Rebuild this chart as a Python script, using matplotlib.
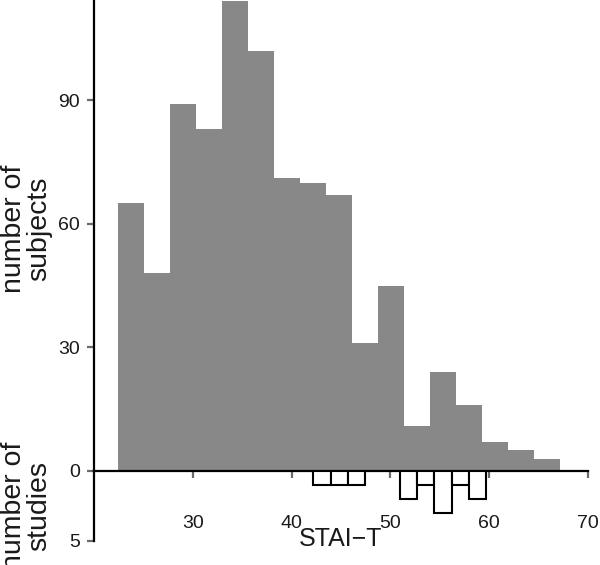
import numpy as np
import matplotlib
matplotlib.use("Agg")
import matplotlib.pyplot as plt

plt.rcParams['font.family'] = ['Liberation Sans', 'DejaVu Sans']

# histogram of STAI-T scores (subjects)
subject_edges = np.linspace(22.4, 67.2, 18)
subject_counts = [65, 48, 89, 83, 114, 102, 71, 70, 67, 31, 45, 11, 24, 16, 7, 5, 3]

# histogram of study means (number of studies)
study_edges = np.linspace(42.2, 59.7, 11)
study_counts = [1, 1, 1, 0, 0, 2, 1, 3, 1, 2]

x_ticks = [30, 40, 50, 60, 70]
subject_ticks = [0, 30, 60, 90]
study_ticks = [5]

fig = plt.figure(figsize=(6, 5.65), dpi=100)
ax = fig.add_axes([0.1567, 0.1664, 0.8233, 0.8336])
ax2 = fig.add_axes([0.1567, 0.0425, 0.8233, 0.1239])

# subjects
ax.bar(subject_edges[:-1], subject_counts, width=np.diff(subject_edges),
       align='edge', color='#888888', linewidth=0)
ax.set_xlim(20, 70)
ax.set_ylim(0, 114.3)
for s in ['top', 'right']:
    ax.spines[s].set_visible(False)
for s in ['left', 'bottom']:
    ax.spines[s].set_linewidth(1.6)
    ax.spines[s].set_color('black')
    ax.spines[s].set_zorder(5)
ax.set_xticks(x_ticks)
ax.set_yticks(subject_ticks)
ax.tick_params(axis='both', direction='out', length=5, width=1.6,
               color='#6a6a6a', labelsize=14, labelcolor='#1a1a1a')
ax.tick_params(axis='x', pad=27)
ax.tick_params(axis='y', pad=5)
ax.set_ylabel('number of\nsubjects', fontsize=20.5, linespacing=0.95,
              color='#1a1a1a')
ax.set_xlabel('STAI\u2212T', fontsize=18, labelpad=-4, color='#1a1a1a')

# studies (drawn downwards)
ax2.patch.set_alpha(0)
mask = np.array(study_counts) > 0
ax2.bar(study_edges[:-1][mask], np.array(study_counts)[mask],
        width=np.diff(study_edges)[mask], align='edge',
        facecolor='white', edgecolor='black', linewidth=1.5)
ax2.set_xlim(20, 70)
ax2.set_ylim(5, 0)
for s in ['top', 'right', 'bottom']:
    ax2.spines[s].set_visible(False)
ax2.spines['left'].set_linewidth(1.6)
ax2.set_xticks([])
ax2.set_yticks(study_ticks)
ax2.tick_params(axis='y', direction='out', length=5, width=1.6,
                color='#6a6a6a', labelsize=14, labelcolor='#1a1a1a', pad=5)
ax2.set_ylabel('number of\nstudies', fontsize=20.5, linespacing=0.95,
               color='#1a1a1a')

# both y labels share the same column
ax.yaxis.set_label_coords(-0.085, 0.515)
ax2.yaxis.set_label_coords(-0.085, 0.5)

fig.savefig('out.png', dpi=100)
